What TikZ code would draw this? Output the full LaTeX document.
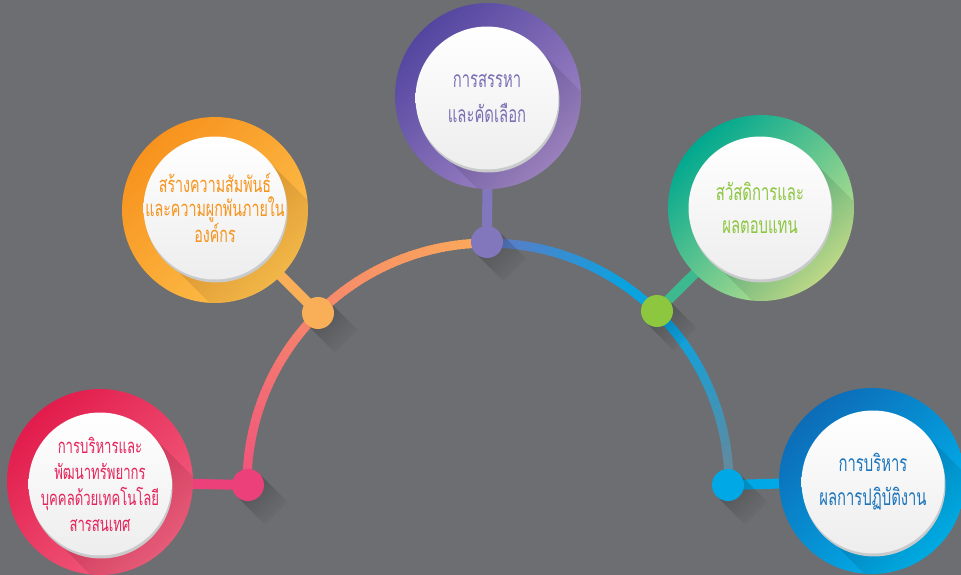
\documentclass[tikz,border=0pt]{standalone}
\usepackage{fontspec}
\newfontfamily\thaifont[Script=Thai,FakeStretch=0.65]{Loma}
\usetikzlibrary{fadings}
\definecolor{bggray}{HTML}{6D6E71}
\definecolor{pinkA}{HTML}{E21C4C}\definecolor{pinkB}{HTML}{F2607F}
\definecolor{pinkdot}{HTML}{EC407A}\definecolor{pinktext}{HTML}{E6245B}
\definecolor{orangeA}{HTML}{F7931E}\definecolor{orangeB}{HTML}{FDC04C}
\definecolor{orangedot}{HTML}{F9AF57}\definecolor{orangetext}{HTML}{F7941D}
\definecolor{purpleA}{HTML}{5446A0}\definecolor{purpleB}{HTML}{A287C6}
\definecolor{purpledot}{HTML}{8277BC}\definecolor{purpletext}{HTML}{7C70B5}
\definecolor{greenA}{HTML}{00A88F}\definecolor{greenB}{HTML}{C6E38E}
\definecolor{greendot}{HTML}{8DC63F}\definecolor{greenstem}{HTML}{3DB98F}
\definecolor{blueA}{HTML}{0D6CB8}\definecolor{blueB}{HTML}{00B4EE}
\definecolor{bluedot}{HTML}{00A8E6}\definecolor{bluetext}{HTML}{1C75BC}
\definecolor{arcpink}{HTML}{F0527C}\definecolor{arcsalmon}{HTML}{F6876C}
\definecolor{arcorange}{HTML}{FBA95A}\definecolor{arcslate}{HTML}{6279C4}
\definecolor{arccyan}{HTML}{0AA3E0}\definecolor{arcgrey}{HTML}{6A8898}
\definecolor{rim}{HTML}{C9CACC}
\tikzset{
  ring/.style={circle,inner sep=0pt,minimum size=3.72cm},
  face/.style={circle,inner sep=0pt,minimum size=2.86cm,top color=white,bottom color=white!93!black},
  rimshade/.style={circle,inner sep=0pt,minimum size=2.86cm,fill=rim},
  label/.style={align=center,inner sep=0pt},
  dot/.style={circle,inner sep=0pt,minimum size=0.64cm},
  stem/.style={line width=0.2cm},
  arcline/.style={line width=0.18cm},
  shadowfill/.style={fill=black,opacity=0.25,path fading=east,fading angle=-45},
  ringshade/.style={fill=black,opacity=0.16,path fading=east,fading angle=-45}
}
\newcommand\longshade[5]{% style, x, y, radius, length
  \fill[#1] ({#2+0.707*#4},{#3-0.707*#4}) -- ++({0.707*#5},{0.707*#5})
    -- ({#2-0.707*#4+0.707*#5},{#3+0.707*#4+0.707*#5}) -- ({#2-0.707*#4},{#3+0.707*#4}) -- cycle;}
\begin{document}
\begin{tikzpicture}[x=0.02cm,y=-0.02cm]
\fill[bggray] (0,0) rectangle (961,575);
\useasboundingbox (0,0) rectangle (961,575);

% half ring
\foreach \s/\e/\ca/\cb in {180/225/arcpink/arcsalmon,225/268/arcsalmon/arcorange,
    270/305/arcslate/arccyan,305/320/arccyan/arccyan,320/360/arccyan/arcgrey}{
  \pgfmathtruncatemacro\n{\e-\s-1}
  \foreach \i in {0,...,\n}{
    \pgfmathtruncatemacro\p{100*\i/\n}
    \pgfmathsetmacro\a{\s+\i}
    \draw[arcline,draw=\cb!\p!\ca] ({488+241*cos(\a)},{484+241*sin(\a)})
      -- ({488+241*cos(\a+1.4)},{484+241*sin(\a+1.4)});
  }
}

\node[dot] (pinkdot) at (248,485) {};
\node[dot] (orangedot) at (318,313) {};
\node[dot] (purpledot) at (487,242) {};
\node[dot] (greendot) at (657,311) {};
\node[dot] (bluedot) at (728,485) {};

\node[ring] (pinkring) at (100,482) {};
\node[ring] (orangering) at (215,210) {};
\node[ring] (purplering) at (488,96) {};
\node[ring] (greenring) at (761,208) {};
\node[ring] (bluering) at (872,481) {};

% stems
\draw[stem,pinkdot] (pinkring.center) -- (pinkdot.center);
\draw[stem,orangedot] (orangering.center) -- (orangedot.center);
\draw[stem,purpledot] (purplering.center) -- (purpledot.center);
\draw[stem,greenstem] (greenring.center) -- (greendot.center);
\draw[stem,bluedot] (bluering.center) -- (bluedot.center);

% dot shadows
\longshade{shadowfill}{248}{485}{16}{40}
\longshade{shadowfill}{318}{313}{16}{40}
\longshade{shadowfill}{487}{242}{16}{40}
\longshade{shadowfill}{657}{311}{16}{40}
\longshade{shadowfill}{728}{485}{16}{40}
\fill[pinkdot] (pinkdot) circle[radius=0.32cm];
\fill[orangedot] (orangedot) circle[radius=0.32cm];
\fill[purpledot] (purpledot) circle[radius=0.32cm];
\fill[greendot] (greendot) circle[radius=0.32cm];
\fill[bluedot] (bluedot) circle[radius=0.32cm];

% rings
\shade[top color=pinkA,bottom color=pinkB,shading angle=45] (pinkring) circle[radius=1.86cm];
\shade[top color=orangeA,bottom color=orangeB,shading angle=45] (orangering) circle[radius=1.86cm];
\shade[top color=purpleA,bottom color=purpleB,shading angle=45] (purplering) circle[radius=1.86cm];
\shade[top color=greenA,bottom color=greenB,shading angle=45] (greenring) circle[radius=1.86cm];
\shade[top color=blueA,bottom color=blueB,shading angle=45] (bluering) circle[radius=1.86cm];
\begin{scope}
  \clip (pinkring) circle[radius=1.86cm];
  \longshade{ringshade}{100}{484}{71}{110}
\end{scope}
\begin{scope}
  \clip (orangering) circle[radius=1.86cm];
  \longshade{ringshade}{215}{208}{71}{110}
\end{scope}
\begin{scope}
  \clip (purplering) circle[radius=1.86cm];
  \longshade{ringshade}{487}{98}{71}{110}
\end{scope}
\begin{scope}
  \clip (greenring) circle[radius=1.86cm];
  \longshade{ringshade}{760}{208}{71}{110}
\end{scope}
\begin{scope}
  \clip (bluering) circle[radius=1.86cm];
  \longshade{ringshade}{873}{482}{71}{110}
\end{scope}

% faces
\node[rimshade] at (101,487) {};
\node[face] (pinkface) at (100,484) {};
\node[rimshade] at (216,211) {};
\node[face] (orangeface) at (215,208) {};
\node[rimshade] at (488,101) {};
\node[face] (purpleface) at (487,98) {};
\node[rimshade] at (761,211) {};
\node[face] (greenface) at (760,208) {};
\node[rimshade] at (874,485) {};
\node[face] (blueface) at (873,482) {};

% texts
\node[label,font=\thaifont\fontsize{11.5}{14.8}\selectfont,text=pinktext] (pinklabel) at (pinkface)
  {การบริหารและ\\พัฒนาทรัพยากร\\บุคคลด้วยเทคโนโลยี\\สารสนเทศ};
\node[label,font=\thaifont\fontsize{12.5}{13.7}\selectfont,text=orangetext] (orangelabel) at (orangeface)
  {สร้างความสัมพันธ์\\และความผูกพันภายใน\\องค์กร};
\node[label,font=\thaifont\fontsize{13}{19.8}\selectfont,text=purpletext] (purplelabel) at (purpleface)
  {การสรรหา\\และคัดเลือก};
\node[label,font=\thaifont\fontsize{13}{18.8}\selectfont,text=greendot] (greenlabel) at (greenface)
  {สวัสดิการและ\\ผลตอบแทน};
\node[label,font=\thaifont\fontsize{13}{19.3}\selectfont,text=bluetext] (bluelabel) at (blueface)
  {การบริหาร\\ผลการปฏิบัติงาน};
\end{tikzpicture}
\end{document}
